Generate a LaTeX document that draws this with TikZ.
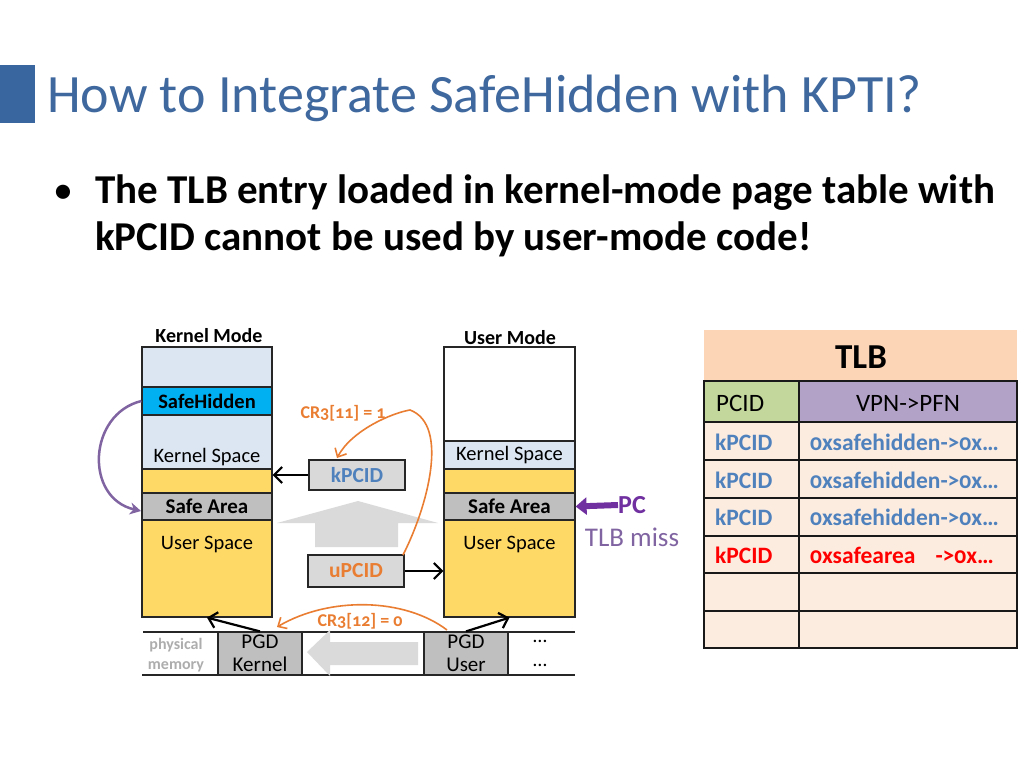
\documentclass[tikz,border=0pt]{standalone}
\usepackage{fontspec}
\setmainfont{Carlito}[Numbers=OldStyle]
\usetikzlibrary{arrows.meta}
\definecolor{titleblue}{RGB}{62,104,158}
\definecolor{barblue}{RGB}{58,102,160}
\definecolor{lightblue}{RGB}{220,230,242}
\definecolor{cyanblue}{RGB}{0,176,240}
\definecolor{softyellow}{RGB}{255,217,102}
\definecolor{midgray}{RGB}{191,191,191}
\definecolor{boxgray}{RGB}{217,217,217}
\definecolor{arrowgray}{RGB}{218,218,218}
\definecolor{pcidblue}{RGB}{79,129,189}
\definecolor{crorange}{RGB}{233,125,49}
\definecolor{pcpurple}{RGB}{112,48,160}
\definecolor{softpurple}{RGB}{128,100,162}
\definecolor{peach}{RGB}{251,213,181}
\definecolor{rowpeach}{RGB}{252,236,224}
\definecolor{hdrgreen}{RGB}{195,214,155}
\definecolor{hdrpurple}{RGB}{179,162,199}
\newcommand\myfs[1]{\fontsize{#1}{#1}\selectfont}
\begin{document}
\begin{tikzpicture}[x=1pt,y=-1pt,
  box/.style={draw=black!85, line width=1.2pt, inner sep=0pt},
  txt/.style={inner sep=0pt, font=\myfs{20.5}},
  arr/.style={line width=2.2pt, -{Straight Barb[length=8pt,width=16pt]}},
  oarr/.style={crorange, line width=1.6pt, -{Straight Barb[length=7pt,width=13pt]}},
  tlbtxt/.style={inner sep=0pt, font=\myfs{25}, anchor=west},
  tlbb/.style={inner sep=0pt, font=\myfs{23.5}\bfseries, anchor=west},
  tl/.style={line width=1.4pt, draw=black!90}]
\useasboundingbox (0,0) rectangle (1024,768);

% title
\fill[barblue] (0,65) rectangle (35,123);
\node[anchor=base west, inner sep=0pt, font=\myfs{54}, text=titleblue] (title) at (47,112) {How to Integrate SafeHidden with KPTI?};
\node[anchor=base west, inner sep=0pt, font=\myfs{40}] (bul) at (53,203) {\textbullet};
\node[anchor=base west, inner sep=0pt, font=\myfs{41}\bfseries] (line1) at (95,203) {The TLB entry loaded in kernel-mode page table with};
\node[anchor=base west, inner sep=0pt, font=\myfs{41}\bfseries] (line2) at (95,250) {kPCID cannot be used by user-mode code!};

% big gray arrow (up)
\fill[arrowgray] (277,523) -- (358,501) -- (438,523) -- (398,523) -- (398,547) -- (315,547) -- (315,523) -- cycle;

% kernel column
\node[inner sep=0pt, font=\myfs{20}\bfseries] (kmode) at (209,336) {Kernel Mode};
\node[box, fill=lightblue, minimum width=130pt, minimum height=40pt] (k1) at (207,367) {};
\node[box, fill=cyanblue, minimum width=130pt, minimum height=28pt, font=\myfs{20.5}\bfseries] (ksh) at (207,401) {SafeHidden};
\node[box, fill=lightblue, minimum width=130pt, minimum height=54pt] (kks) at (207,442) {};
\node[txt] (kkst) at (207,457) {Kernel Space};
\node[box, fill=softyellow, minimum width=130pt, minimum height=24pt] (ky) at (207,481) {};
\node[box, fill=midgray, minimum width=130pt, minimum height=27pt, font=\myfs{21}\bfseries] (ksa) at (207,506.5) {Safe Area};
\node[box, fill=softyellow, minimum width=130pt, minimum height=97pt] (kus) at (207,568.5) {};
\node[txt] (kust) at (207,544) {User Space};

% user column
\node[inner sep=0pt, font=\myfs{20}\bfseries] (umode) at (510,338) {User Mode};
\node[box, fill=white, minimum width=131pt, minimum height=94pt] (u1) at (509.5,394) {};
\node[box, fill=lightblue, minimum width=131pt, minimum height=28pt, font=\myfs{20.5}] (uks) at (509.5,455) {Kernel Space};
\node[box, fill=softyellow, minimum width=131pt, minimum height=24pt] (uy) at (509.5,481) {};
\node[box, fill=midgray, minimum width=131pt, minimum height=27pt, font=\myfs{21}\bfseries] (usa) at (509.5,506.5) {Safe Area};
\node[box, fill=softyellow, minimum width=131pt, minimum height=97pt] (uus) at (509.5,568.5) {};
\node[txt] (uust) at (509.5,544) {User Space};

% PCID boxes
\node[box, fill=boxgray, minimum width=96pt, minimum height=30pt, font=\myfs{21.5}\bfseries, text=pcidblue] (kpcid) at (357,475) {kPCID};
\node[box, fill=boxgray, minimum width=96pt, minimum height=32pt, font=\myfs{21.5}\bfseries, text=crorange] (upcid) at (356,571) {uPCID};
\draw[arr] (kpcid.west) -- (kpcid.west -| ky.east);
\draw[arr] (upcid.east) -- (upcid.east -| uus.west);

% CR3[11] curve
\draw[oarr] (403,555) .. controls (427,508) and (450,425) .. (410,410) .. controls (392,413) and (352,430) .. (337,458);
\node[inner sep=0pt, font=\myfs{18}\bfseries, text=crorange] (cr11) at (343,413) {CR3[11] = 1};

% bottom row
\draw[line width=1.2pt, black!85] (143,632) -- (575,632);
\draw[line width=1.2pt, black!85] (142,675) -- (575,675);
\node[box, fill=midgray, minimum width=84pt, minimum height=43pt, align=center, font=\myfs{21}] (pgdk) at (260,653.5) {PGD\\[2pt]Kernel};
\node[box, fill=midgray, minimum width=84pt, minimum height=43pt, align=center, font=\myfs{21}] (pgdu) at (466,653.5) {PGD\\[2pt]User};
\node[inner sep=0pt, align=center, font=\myfs{16}\bfseries, text=black!32] (phys) at (176,655) {physical\\[4pt]memory};
\node[inner sep=0pt, font=\myfs{20}] (dots1) at (540,641) {\dots};
\node[inner sep=0pt, font=\myfs{20}] (dots2) at (540,665) {\dots};
\fill[arrowgray] (307,652) -- (330,630) -- (330,642) -- (418,642) -- (418,665) -- (330,665) -- (330,676) -- cycle;

\draw[arr] (pgdk.north) -- (kus.south);
\draw[arr] (pgdu.north) -- (uus.south);
\draw[oarr] (447,630) .. controls (405,598) and (330,596) .. (277,627);
\node[inner sep=0pt, font=\myfs{18}\bfseries, text=crorange] (cr12) at (360,621) {CR3[12] = 0};

% purple curve
\draw[softpurple, line width=2.5pt, -{Stealth[length=11pt,width=12pt]}] (ksh.west) .. controls (88,414) and (84,498) .. (141,511);

% PC arrow
\node[inner sep=0pt, font=\myfs{26}\bfseries, text=pcpurple, anchor=west] (pc) at (618,505) {PC};
\draw[pcpurple, line width=6pt, -{Triangle[length=11pt,width=17pt]}] (pc.west) -- (usa.east);
\node[inner sep=0pt, font=\myfs{27}, text=softpurple] (miss) at (632,537) {TLB miss};

% TLB table
\fill[peach] (704,330) rectangle (1017,381);
\node[inner sep=0pt, font=\myfs{35}\bfseries] (tlb) at (861,357) {TLB};
\fill[hdrgreen] (704,381) rectangle (799,422);
\fill[hdrpurple] (799,381) rectangle (1017,422);
\fill[rowpeach] (704,422) rectangle (1017,648);
\draw[tl] (704,381) rectangle (1017,648);
\foreach \yy in {422,460,498,536,573,611} \draw[tl] (704,\yy) -- (1017,\yy);
\draw[tl] (799,381) -- (799,648);
\node[tlbtxt] (hpcid) at (716,403) {PCID};
\node[tlbtxt, anchor=center] (hvpn) at (908,403) {VPN->PFN};
\node[tlbb, text=pcidblue] (r1a) at (715,442) {kPCID};
\node[tlbb, text=pcidblue] (r1b) at (810,442) {0xsafehidden->0x\dots};
\node[tlbb, text=pcidblue] (r2a) at (715,480) {kPCID};
\node[tlbb, text=pcidblue] (r2b) at (810,480) {0xsafehidden->0x\dots};
\node[tlbb, text=pcidblue] (r3a) at (715,517) {kPCID};
\node[tlbb, text=pcidblue] (r3b) at (810,517) {0xsafehidden->0x\dots};
\node[tlbb, text=red] (r4a) at (715,555) {kPCID};
\node[tlbb, text=red] (r4b) at (810,555) {0xsafearea\hspace{20pt}->0x\dots};
\end{tikzpicture}
\end{document}
